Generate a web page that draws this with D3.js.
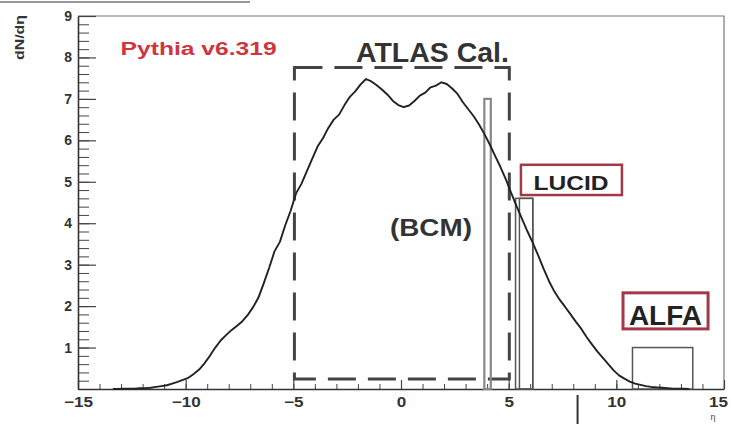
<!DOCTYPE html>
<html>
<head>
  <meta charset="utf-8">
  <script src="https://d3js.org/d3.v7.min.js"></script>
  <title>dN/deta Pythia</title>
  <style>
  body { margin: 0; background: #fff; }
  svg { display: block; font-family: "Liberation Sans", Arial, sans-serif; }
  </style>
</head>
<body>
  <div id="chart"></div>
  <script>

  // histogram of dN/deta, bins of 0.25 starting at eta = -13.5
  var binStart = -13.5,
    binWidth = 0.25;
  var dndeta = [
    0.00, 0.00, 0.01, 0.01, 0.01, 0.02, 0.02, 0.03, 0.05, 0.07,
    0.09, 0.13, 0.17, 0.22, 0.27, 0.36, 0.47, 0.62, 0.80, 1.00,
    1.17, 1.30, 1.42, 1.52, 1.63, 1.78, 1.97, 2.20, 2.55, 2.92,
    3.32, 3.55, 3.95, 4.30, 4.72, 4.95, 5.25, 5.55, 5.85, 6.05,
    6.30, 6.50, 6.62, 6.85, 7.05, 7.18, 7.35, 7.48, 7.42, 7.33,
    7.22, 7.10, 6.95, 6.85, 6.80, 6.84, 6.95, 7.08, 7.15, 7.28,
    7.32, 7.40, 7.36, 7.25, 7.12, 6.92, 6.75, 6.58, 6.38, 6.15,
    5.90, 5.62, 5.35, 5.05, 4.72, 4.40, 4.10, 3.80, 3.52, 3.22,
    2.90, 2.60, 2.35, 2.15, 1.98, 1.80, 1.62, 1.45, 1.25, 1.07,
    0.90, 0.75, 0.60, 0.45, 0.33, 0.25, 0.18, 0.13, 0.10, 0.07,
    0.05, 0.04, 0.03, 0.02, 0.01, 0.01, 0.005, 0.00
  ];

  // detector acceptances: eta range and drawn height
  var detNames = ["BCM", "LUCID", "LUCID", "ALFA"];
  var detLo = [3.87, 5.32, 5.5, 10.75];
  var detHi = [4.17, 6.12, 6.12, 13.55];
  var detH = [7.0, 4.6, 4.6, 1.0];

  // calorimeter region (dashed box)
  var calEta = [-4.95, 5.03];
  var calVal = [0.24, 7.76];

  var xTicks = [-15, -10, -5, 0, 5, 10, 15];
  var yTicks = [1, 2, 3, 4, 5, 6, 7, 8, 9];

  var width = 731,
    height = 424;

  var svg = d3.select("#chart").append("svg")
    .attr("width", width).attr("height", height);

  var x = d3.scaleLinear().domain([-15, 15]).range([78, 724]);
  var y = d3.scaleLinear().domain([0, 9]).range([389, 16]);

  // stray line at the top of the scan
  svg.append("line").attr("x1", 0).attr("x2", 250).attr("y1", 2).attr("y2", 2)
    .attr("stroke", "#999").attr("stroke-width", 2);

  // frame top / right
  svg.append("path")
    .attr("d", "M" + x(-15) + "," + y(9) + "H" + x(15) + "V" + y(0))
    .attr("fill", "none").attr("stroke", "#777").attr("stroke-width", 1.2);

  // minor ticks
  svg.append("g").attr("transform", "translate(0," + y(0) + ")")
    .call(d3.axisBottom(x).tickValues(d3.range(-15, 15.01, 1)).tickSize(-5).tickFormat(""))
    .call(function(g) { g.select(".domain").remove(); g.selectAll("line").attr("stroke", "#444"); });
  svg.append("g").attr("transform", "translate(" + x(-15) + ",0)")
    .call(d3.axisLeft(y).tickValues(d3.range(0, 9.01, 0.2)).tickSize(-11).tickFormat(""))
    .call(function(g) { g.select(".domain").remove(); g.selectAll("line").attr("stroke", "#444"); });

  // major axes
  var xAxis = svg.append("g").attr("transform", "translate(0," + y(0) + ")")
    .call(d3.axisBottom(x).tickValues(xTicks).tickSize(-9).tickPadding(6).tickSizeOuter(0));
  var yAxis = svg.append("g").attr("transform", "translate(" + x(-15) + ",0)")
    .call(d3.axisLeft(y).tickValues(yTicks).tickSize(-18).tickPadding(6).tickSizeOuter(0));

  [xAxis, yAxis].forEach(function(a) {
    a.select(".domain").attr("stroke", "#333").attr("stroke-width", 1.6);
    a.selectAll(".tick line").attr("stroke", "#444").attr("stroke-width", 1.2);
    a.selectAll("text").attr("fill", "#333").style("font-size", "14px").style("font-weight", "bold");
  });
  xAxis.selectAll("text").attr("y", 0).attr("dy", 0)
    .attr("transform", function(d) { return "translate(" + (d == 15 ? -6 : 0) + ",18) scale(1.22,1)"; });

  // axis titles
  svg.append("text").attr("transform", "translate(24,15) rotate(-90)")
    .attr("text-anchor", "end").style("font-size", "13px").style("font-weight", "bold")
    .attr("fill", "#333").attr("textLength", 45).attr("lengthAdjust", "spacingAndGlyphs")
    .text("dN/dη");
  svg.append("text").attr("x", 713).attr("y", 420).attr("text-anchor", "middle")
    .style("font-size", "9px").attr("fill", "#444").text("η");

  // tick mark below the axis
  svg.append("line").attr("x1", x(8.2)).attr("x2", x(8.2)).attr("y1", 395).attr("y2", 424)
    .attr("stroke", "#333").attr("stroke-width", 2);

  // calorimeter dashed box
  svg.append("path")
    .attr("d", "M" + x(calEta[0]) + "," + y(calVal[1]) + "H" + x(calEta[1]) + "V" + y(calVal[0])
      + "H" + x(calEta[0]) + "Z")
    .attr("fill", "none").attr("stroke", "#444").attr("stroke-width", 3)
    .attr("stroke-dasharray", "28,12");

  // detector boxes
  var dets = detNames.map(function(n, i) { return { name: n, lo: detLo[i], hi: detHi[i], h: detH[i] }; });
  svg.selectAll(".det").data(dets).enter().append("rect")
    .attr("class", "det")
    .attr("x", function(d) { return x(d.lo); })
    .attr("y", function(d) { return y(d.h); })
    .attr("width", function(d) { return x(d.hi) - x(d.lo); })
    .attr("height", function(d) { return y(0) - y(d.h); })
    .attr("fill", "none")
    .attr("stroke", function(d) { return d.name == "BCM" ? "#888" : "#555"; })
    .attr("stroke-width", function(d) { return d.name == "BCM" ? 2.2 : 1.5; });

  // the dN/deta histogram, drawn through the bin centres
  var pts = dndeta.map(function(v, i) { return [binStart + (i + 0.5) * binWidth, v]; });
  var line = d3.line().x(function(d) { return x(d[0]); }).y(function(d) { return y(d[1]); });
  svg.append("path").datum(pts).attr("d", line)
    .attr("fill", "none").attr("stroke", "#222").attr("stroke-width", 1.9)
    .attr("stroke-linejoin", "round");

  // labels
  function label(txt, ex, vy, size, len, color) {
    return svg.append("text").attr("x", x(ex)).attr("y", y(vy))
      .attr("text-anchor", "middle").style("font-size", size + "px").style("font-weight", "bold")
      .attr("fill", color).attr("textLength", len).attr("lengthAdjust", "spacingAndGlyphs")
      .text(txt);
  }
  label("Pythia v6.319", -9.4, 8.06, 18, 156, "#cf3540");
  label("ATLAS Cal.", 1.46, 7.89, 27, 153, "#333");
  label("(BCM)", 1.39, 3.69, 24, 82, "#333");

  // boxed labels
  svg.append("rect").attr("x", x(5.57)).attr("y", y(5.41))
    .attr("width", x(10.26) - x(5.57)).attr("height", y(4.68) - y(5.41))
    .attr("fill", "#fff").attr("stroke", "#a23848").attr("stroke-width", 2.5);
  label("LUCID", 7.9, 4.8, 20, 75, "#222");
  svg.append("rect").attr("x", x(10.31)).attr("y", y(2.32))
    .attr("width", x(14.26) - x(10.31)).attr("height", y(1.45) - y(2.32))
    .attr("fill", "#fff").attr("stroke", "#a23848").attr("stroke-width", 3);
  label("ALFA", 12.28, 1.55, 28, 73, "#222");

  </script>
</body>
</html>
